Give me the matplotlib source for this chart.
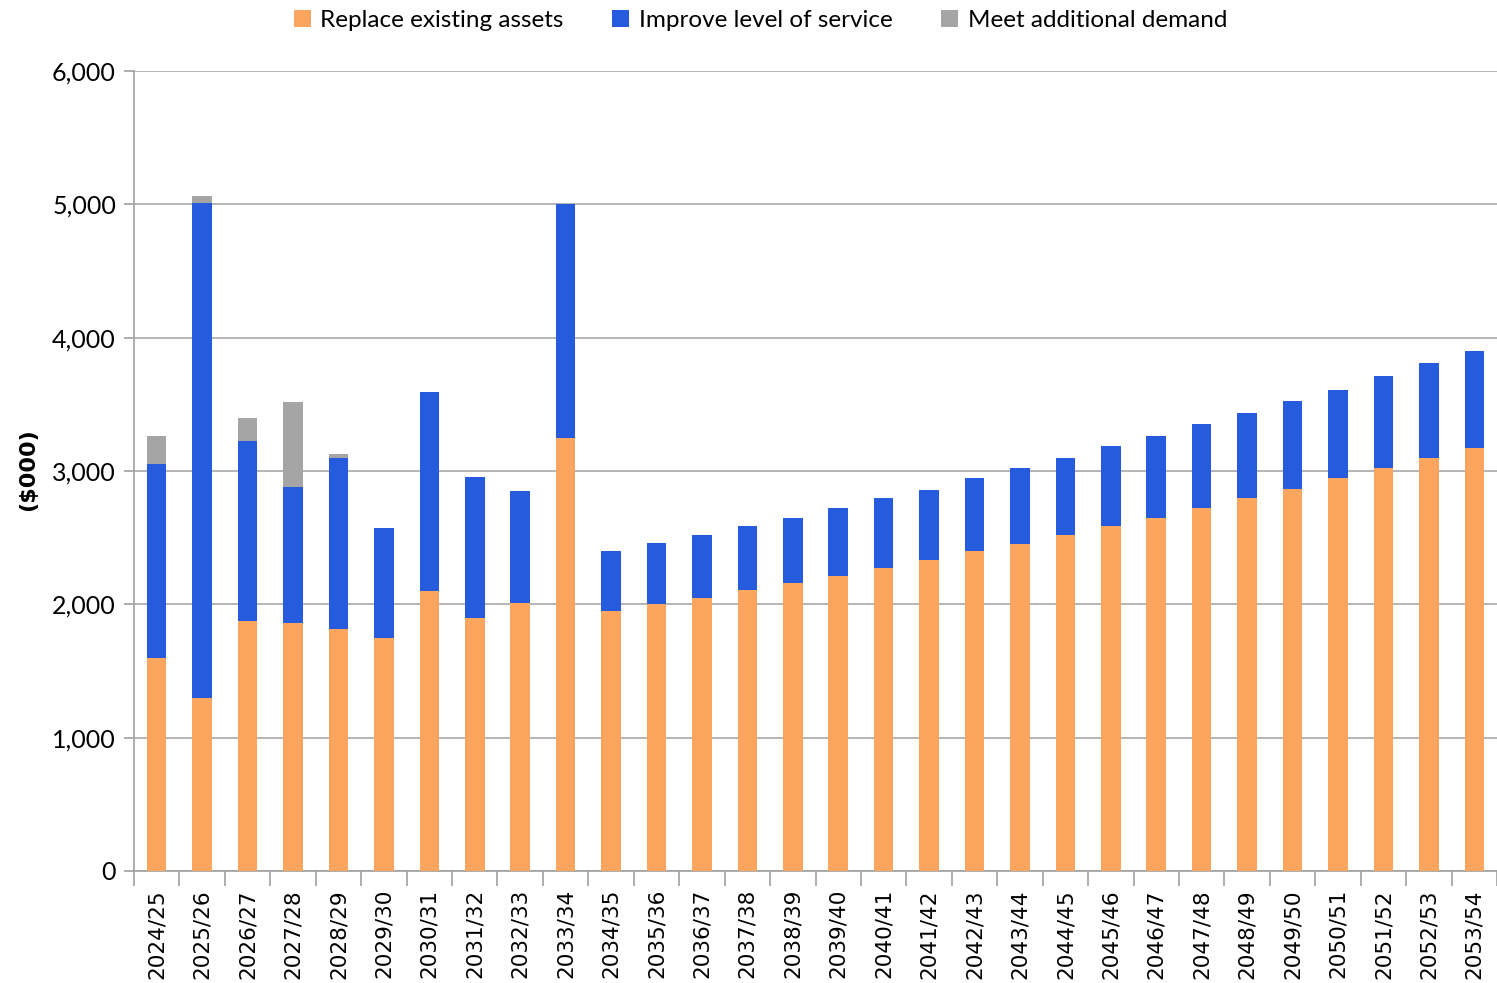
import matplotlib
matplotlib.use("Agg")
import matplotlib.pyplot as plt
import numpy as np
from matplotlib.ticker import FuncFormatter, MultipleLocator, FixedLocator

categories = ["2024/25", "2025/26", "2026/27", "2027/28", "2028/29", "2029/30",
              "2030/31", "2031/32", "2032/33", "2033/34", "2034/35", "2035/36",
              "2036/37", "2037/38", "2038/39", "2039/40", "2040/41", "2041/42",
              "2042/43", "2043/44", "2044/45", "2045/46", "2046/47", "2047/48",
              "2048/49", "2049/50", "2050/51", "2051/52", "2052/53", "2053/54"]

replace_existing = [1600, 1300, 1875, 1860, 1815, 1750, 2100, 1900, 2010, 3250,
                    1950, 2000, 2050, 2110, 2160, 2210, 2275, 2335, 2400, 2450,
                    2520, 2585, 2650, 2725, 2800, 2865, 2950, 3025, 3100, 3175]
improve_service = [1450, 3710, 1350, 1020, 1285, 825, 1490, 1055, 840, 1750,
                   450, 460, 470, 475, 490, 510, 520, 525, 545, 575,
                   580, 600, 610, 625, 635, 660, 660, 685, 710, 725]
meet_demand = [210, 55, 175, 635, 25, 0, 0, 0, 0, 0,
               0, 0, 0, 0, 0, 0, 0, 0, 0, 0,
               0, 0, 0, 0, 0, 0, 0, 0, 0, 0]

series_names = ["Replace existing assets", "Improve level of service", "Meet additional demand"]
colors = ["#FBA55E", "#255BDC", "#A5A5A5"]

fig = plt.figure(figsize=(14.97, 9.83), dpi=100)
ax = fig.add_axes([134 / 1497, 1 - 871 / 983, 1 - 134 / 1497, (871 - 71) / 983])

x = np.arange(len(categories))
w = 0.43
r = np.array(replace_existing)
i = np.array(improve_service)
d = np.array(meet_demand)
ax.bar(x, r, w, color=colors[0], label=series_names[0], zorder=3)
ax.bar(x, i, w, bottom=r, color=colors[1], label=series_names[1], zorder=3)
ax.bar(x, d, w, bottom=r + i, color=colors[2], label=series_names[2], zorder=3)

ax.set_xlim(-0.5, len(categories) - 0.5)
ax.set_ylim(0, 6000)
ax.yaxis.set_major_locator(MultipleLocator(1000))
ax.yaxis.set_major_formatter(FuncFormatter(lambda v, p: f"{int(v):,}"))
ax.grid(axis="y", color="#A8A8A8", linewidth=1.2, zorder=0)

ax.set_xticks(x)
ax.set_xticklabels(categories, rotation=90, fontsize=15.5, family=["DejaVu Sans"])
ax.tick_params(axis="x", which="major", length=0, pad=13)
ax.xaxis.set_minor_locator(FixedLocator(np.arange(-0.5, len(categories), 1.0)))
ax.tick_params(axis="x", which="minor", length=11, color="#A0A0A0", width=1.2)
ax.tick_params(axis="y", length=7, color="#A0A0A0", width=1.2, labelsize=18, pad=6)
for lab in ax.get_yticklabels():
    lab.set_family(["Lato", "DejaVu Sans"])

for s in ["top", "right"]:
    ax.spines[s].set_visible(False)
for s in ["left", "bottom"]:
    ax.spines[s].set_color("#A0A0A0")
    ax.spines[s].set_linewidth(1.2)

fig.text(0.019, 1 - 470 / 983, "($000)", rotation=90, fontsize=16, fontweight="bold",
         ha="center", va="center", family=["DejaVu Sans"])

leg = fig.legend(loc="upper center", bbox_to_anchor=(0.508, 1.012), ncol=3, frameon=False,
                 handlelength=0.7, handleheight=0.7, columnspacing=2.0, handletextpad=0.4,
                 prop={"family": ["Lato", "DejaVu Sans"], "size": 17.5})

fig.savefig("out.png", dpi=100)
